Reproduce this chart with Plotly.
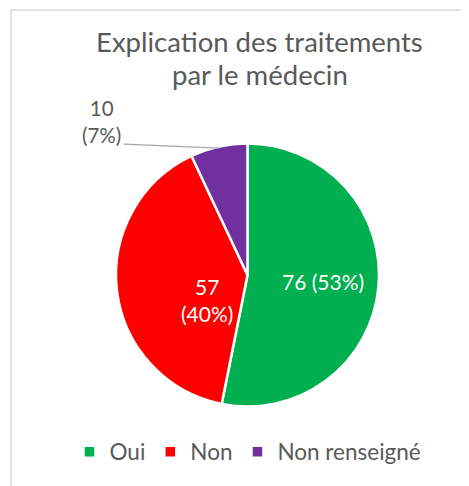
import math
import plotly.graph_objects as go

categories = ["Oui", "Non", "Non renseigné"]
values = [76, 57, 10]
colors = ["#00B050", "#FF0000", "#7030A0"]
title_lines = ["Explication des traitements", "par le médecin"]

total = sum(values)
pcts = [round(100 * v / total) for v in values]

# figure size (page body adds an 8px margin)
OFF = 8
W, H = 469 - OFF, 486 - OFF
FONT = "Lato"
GRAY = "#595959"

def fx(x):  # screen px -> paper x
    return (x - OFF) / W

def fy(y):  # screen px -> paper y
    return (H - (y - OFF)) / H

# pie geometry in screen px
cx, cy, R = 247.5, 275, 131.5

fig = go.Figure(go.Pie(
    labels=categories,
    values=values,
    sort=False,
    direction="clockwise",
    rotation=0,
    marker=dict(colors=colors, line=dict(color="white", width=2.5)),
    textinfo="none",
    hoverinfo="label+value+percent",
    domain=dict(x=[fx(cx - R), fx(cx + R)],
                y=[fy(cy + R), fy(cy - R)]),
))

def ann(text, x, y, size, color):
    fig.add_annotation(text=text, xref="paper", yref="paper",
                       x=fx(x), y=fy(y), xanchor="center",
                       yanchor="middle", showarrow=False,
                       font=dict(family=FONT, size=size, color=color))

# data labels
ann(f"{values[0]} ({pcts[0]}%)", 323, 281, 21, "white")
ann(f"{values[1]}<br>({pcts[1]}%)", 207, 300, 21, "white")
ann(f"{values[2]}<br>({pcts[2]}%)", 101, 121, 20.5, GRAY)

# leader line to the middle of the small slice's arc
r_vis = 130
mid_frac = (values[0] + values[1] + values[2] / 2) / total
ang = 2 * math.pi * mid_frac
tip_x = cx + r_vis * math.sin(ang)
tip_y = cy - r_vis * math.cos(ang)
fig.add_annotation(
    text="", xref="paper", yref="paper",
    x=fx(tip_x), y=fy(tip_y),
    ax=122 - tip_x, ay=144 - tip_y,
    showarrow=True, arrowhead=0, arrowwidth=1.2, arrowcolor="#A6A6A6",
    standoff=0, startstandoff=0,
)

# title
ann(title_lines[0], 260, 41, 27.5, GRAY)
ann(title_lines[1], 260, 75, 27.5, GRAY)

# chart-area frame
fig.add_shape(type="rect", xref="paper", yref="paper",
              x0=fx(11), x1=1.05, y0=-0.05, y1=fy(10),
              line=dict(color="#D9D9D9", width=1.5), layer="below")

fig.update_layout(
    width=W, height=H,
    margin=dict(l=0, r=0, t=0, b=0),
    paper_bgcolor="white",
    plot_bgcolor="white",
    showlegend=True,
    legend=dict(orientation="h", x=fx(248), xanchor="center",
                y=fy(452), yanchor="middle",
                font=dict(family=FONT, size=22.5, color=GRAY),
                itemwidth=30, traceorder="normal"),
)

fig.write_html("out.html")
